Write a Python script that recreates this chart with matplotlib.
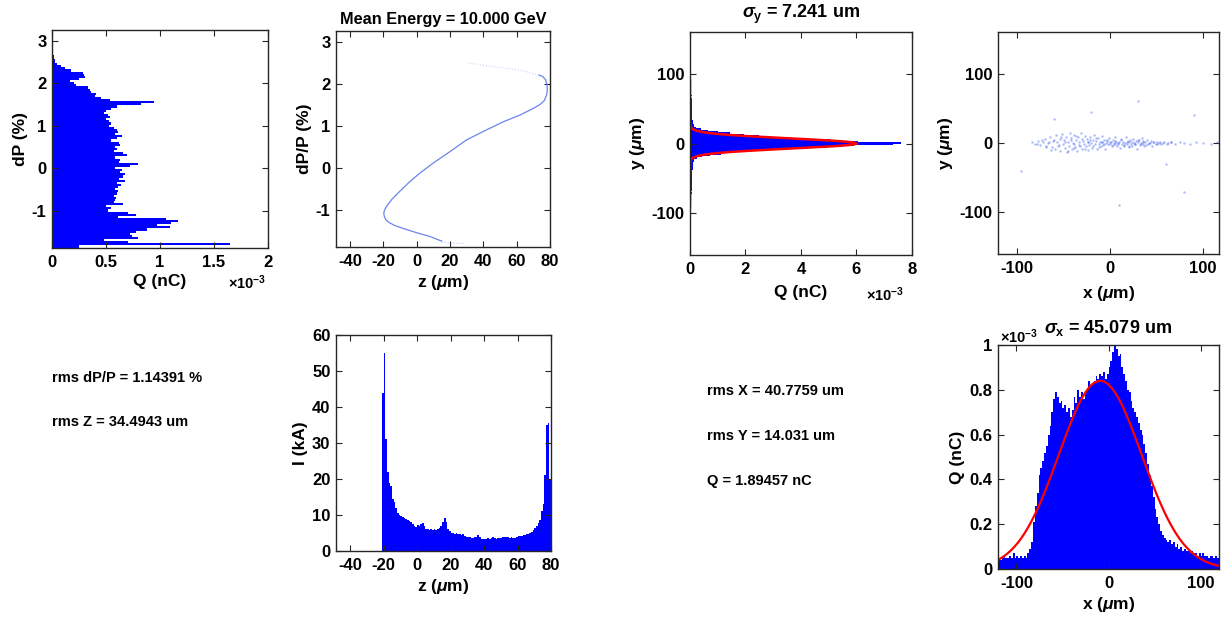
import numpy as np
import matplotlib
matplotlib.use("Agg")
import matplotlib.pyplot as plt
from matplotlib.ticker import FuncFormatter

W, H = 1223, 621
BLUE, RED, EDGE = "#0000ff", "#ff0000", "#262626"

# ---- energy spread histogram (dP %, Q in 1e-3 nC), bins of 0.05 % starting at -1.87
dp_start, dp_width = -1.87, 0.05
dp_q = [0.25, 1.65, 0.70, 0.48, 0.80, 0.74, 0.72, 0.78, 0.88, 1.09,
        0.97, 1.10, 1.17, 1.06, 0.61, 0.78, 0.70, 0.52, 0.55, 0.50,
        0.66, 0.57, 0.58, 0.59, 0.57, 0.60, 0.61, 0.58, 0.61, 0.64,
        0.60, 0.68, 0.62, 0.66, 0.68, 0.63, 0.65, 0.58, 0.72, 0.80,
        0.62, 0.63, 0.58, 0.69, 0.66, 0.57, 0.60, 0.58, 0.63, 0.62,
        0.55, 0.60, 0.65, 0.58, 0.61, 0.60, 0.57, 0.53, 0.55, 0.53,
        0.50, 0.54, 0.52, 0.48, 0.50, 0.55, 0.60, 0.82, 0.94, 0.54,
        0.45, 0.40, 0.41, 0.36, 0.35, 0.33, 0.22, 0.20, 0.17, 0.25,
        0.31, 0.30, 0.29, 0.18, 0.12, 0.08, 0.05, 0.03, 0.025, 0.02,
        0.015, 0.01, 0.008, 0.005]

# ---- longitudinal phase space trace (z um, dP/P %)
lps_z = [15, 8, 0, -8, -13, -16.5, -18.5, -19.5, -19.7, -19.3, -18, -15, -10, -4,
         2, 10, 20, 30, 40, 52, 62, 70, 74, 76.5, 78, 78.4, 78.2, 77.4, 75.5, 73.4]
lps_dp = [-1.74, -1.63, -1.54, -1.44, -1.37, -1.30, -1.23, -1.14, -1.07, -1.00,
          -0.91, -0.75, -0.55, -0.32, -0.12, 0.12, 0.39, 0.67, 0.87, 1.10, 1.26,
          1.42, 1.51, 1.60, 1.74, 1.85, 1.95, 2.10, 2.18, 2.21]
tail_lo_z = [15, 18, 22, 25, 28]
tail_lo_dp = [-1.76, -1.78, -1.79, -1.79, -1.80]
tail_hi_z = [73.4, 64, 54, 44, 30]
tail_hi_dp = [2.21, 2.31, 2.37, 2.42, 2.51]

# ---- vertical profile (y um, Q in 1e-3 nC), 2 um bins from -90
y_start, y_width = -90, 2
y_q = [0.02, 0.03, 0.04, 0.04, 0.05, 0.04, 0.05, 0.05, 0.05, 0.06,
       0.05, 0.06, 0.06, 0.06, 0.07, 0.06, 0.07, 0.07, 0.07, 0.08,
       0.07, 0.08, 0.08, 0.08, 0.09, 0.09, 0.10, 0.10, 0.10, 0.11,
       0.11, 0.12, 0.13, 0.15, 0.24, 0.42, 0.72, 1.10, 1.60, 2.20,
       2.95, 3.85, 4.85, 5.90, 7.30,
       7.60, 6.05, 5.05, 4.10, 3.20, 2.50, 1.95, 1.45, 1.00, 0.65,
       0.38, 0.22, 0.16, 0.13, 0.11, 0.10, 0.10, 0.09, 0.09, 0.09,
       0.08, 0.08, 0.08, 0.08, 0.07, 0.08, 0.07, 0.07, 0.07, 0.06,
       0.06, 0.06, 0.06, 0.05, 0.06, 0.05, 0.05, 0.05, 0.04, 0.04,
       0.04, 0.03, 0.03, 0.01, 0.0]
sigma_y, amp_y, mu_y = 7.241, 6.0, 0.0

# ---- transverse x-y cloud (um)
cloud_x = [-84, -80, -77, -75, -72, -70, -68, -66, -64, -62, -61, -59, -58, -57, -55,
           -54, -53, -51, -50, -49, -48, -47, -46, -45, -44, -43, -42, -41, -40, -39,
           -38, -37, -36, -35, -34, -33, -32, -31, -30, -29, -28, -27, -26, -25, -24,
           -23, -22, -21, -20, -19, -18, -17, -16, -15, -14, -13, -12, -11, -10, -9,
           -8, -7, -6, -5, -4, -3, -2, -1, 0, 1, 2, 3, 4, 5, 6, 7, 8, 9, 10, 11, 12,
           13, 14, 15, 16, 17, 18, 19, 20, 21, 22, 23, 24, 25, 26, 27, 28, 29, 30, 31,
           32, 33, 34, 35, 36, 37, 38, 40, 41, 42, 44, 45, 47, 49, 51, 53, 55, 58, 62,
           66, 70, 75, 80, 86, 92, 100, 108, 115,
           -78, -73, -69, -65, -63, -60, -56, -52, -48, -45, -42, -39, -36, -33, -30,
           -27, -24, -21, -18, -15, -12, -9, -6, -3, 0, 3, 6, 9, 12, 15, 18, 21, 24,
           27, 30, 33, 36, 39, 43, 46, 50, 54, 57, 61, 65,
           -95, 30, 60, -20, 80, 10, -60, 90]
cloud_y = [2, -1, 3, -3, 1, 6, -4, 0, 8, -6, 3, -9, 11, 1, -3,
           6, -11, 13, -1, 4, -7, 9, -13, 2, -4, 15, 7, -9, 0, -2,
           12, -6, 4, -11, 8, 1, -4, 14, -8, 3, -1, 10, -5, 6, -10,
           2, -3, 9, 0, -7, 5, 12, -2, 3, -9, 7, -1, 1, -5, 10,
           2, -3, 5, -8, 0, 3, -2, 7, -1, 1, -5, 4, 0, -2, 9, 2, -4, 0, 1, -7, 5,
           -1, 2, -3, 0, 8, -2, 3, -6, 1, 4, -1, -4, 6, 0, -2, 3, -8, 1, 5,
           -3, 0, 7, -1, 2, -5, 1, 4, -2, 0, 3, -4, 1, -1, 2, 0, -2, 1, 0,
           2, -1, 1, 0, -1, 1, 0, -1, 1,
           -2, 4, -6, 2, -10, 5, -5, 9, 1, -12, 4, -7, 10, -3, 6,
           -9, 1, 4, -4, 7, -6, 2, -2, 5, 1, -3, 3, -1, 6, -4, 1, -5, 2,
           -2, 4, -1, 3, -3, 0, 2, -1, 1, 0, -2, 1,
           -40, 60, -30, 45, -70, -90, 35, 40]

# ---- current profile (z um, I kA), 1 um bins from -21
z_start = -21
cur_ka = [44, 55, 31, 22, 19, 18, 14.5, 13.5, 12, 10.5,
          10, 9.8, 9.5, 9.2, 8.8, 8.5, 8.3, 8.0, 7.5, 7.0,
          6.8, 7.2, 7.0, 7.5, 7.8, 7.0, 6.0, 6.2, 5.8, 6.0,
          5.9, 6.1, 5.8, 6.0, 6.5, 7.0, 8.0, 9.2, 8.0, 6.2,
          5.5, 5.0, 5.0, 4.8, 5.0, 4.6, 4.8, 4.5, 4.6, 4.2,
          4.0, 4.0, 3.8, 3.5, 3.6, 3.8, 4.0, 4.4, 3.8, 3.4,
          3.4, 3.3, 3.4, 3.5, 3.4, 3.6, 3.9, 3.5, 3.3, 3.5,
          3.6, 3.7, 3.8, 4.0, 3.9, 3.8, 3.7, 3.8, 3.6, 3.7,
          4.0, 4.2, 4.3, 4.3, 4.4, 4.5, 4.6, 4.8, 5.0, 5.2,
          5.8, 6.5, 7.0, 7.8, 8.5, 11.0, 13.0, 21.0, 35.0, 35.5,
          20.0]

# ---- horizontal profile (x um, Q in 1e-3 nC), 2 um bins from -120
x_start, x_width = -120, 2
x_q = [0.05, 0.04, 0.05, 0.06, 0.05, 0.05, 0.06, 0.05, 0.07, 0.05,
       0.06, 0.05, 0.06, 0.05, 0.06, 0.05, 0.07,
       0.09, 0.12, 0.21, 0.28, 0.34, 0.42, 0.45, 0.48, 0.52, 0.55,
       0.60, 0.64, 0.70, 0.76, 0.79, 0.77, 0.74, 0.75, 0.72, 0.73,
       0.70, 0.72, 0.68, 0.71, 0.77, 0.74, 0.80, 0.77, 0.79, 0.76,
       0.78, 0.80, 0.84, 0.82, 0.83, 0.84, 0.86, 0.85, 0.87, 0.86,
       0.88, 0.85, 0.87, 0.90, 0.93, 0.97, 1.00, 0.98, 0.95, 0.96,
       0.90, 0.87, 0.84, 0.80, 0.79, 0.75, 0.72, 0.70, 0.68, 0.65,
       0.62, 0.60, 0.56, 0.52, 0.47, 0.42, 0.37, 0.32, 0.27, 0.23,
       0.20, 0.17, 0.15, 0.14, 0.13, 0.12, 0.13, 0.11, 0.12, 0.10,
       0.11, 0.09, 0.10, 0.08, 0.09, 0.08, 0.08, 0.07, 0.08, 0.07,
       0.07, 0.06, 0.07, 0.06, 0.07, 0.06, 0.06, 0.05, 0.06, 0.06,
       0.05, 0.06, 0.05]
sigma_x, amp_x, mu_x = 45.079, 0.84, -9.0

stats_left = ["rms dP/P = 1.14391 %", "rms Z = 34.4943 um"]
stats_right = ["rms X = 40.7759 um", "rms Y = 14.031 um", "Q = 1.89457 nC"]

plt.rcParams.update({
    "font.family": ["Liberation Sans", "DejaVu Sans"],
    "font.weight": "bold", "font.size": 12,
    "axes.labelweight": "bold", "axes.titleweight": "bold",
    "axes.labelsize": 12.5, "axes.titlesize": 11.7,
    "axes.labelpad": 3,
    "axes.unicode_minus": False,
    "mathtext.fontset": "custom", "mathtext.rm": "Liberation Sans:bold",
    "mathtext.it": "Liberation Sans:italic", "mathtext.bf": "Liberation Sans:bold",
    "axes.edgecolor": EDGE, "axes.linewidth": 1.0,
    "xtick.direction": "in", "ytick.direction": "in",
    "xtick.top": True, "ytick.right": True,
    "xtick.major.size": 4, "ytick.major.size": 4,
    "xtick.major.pad": 5, "ytick.major.pad": 4,
    "xtick.color": EDGE, "ytick.color": EDGE,
    "xtick.labelcolor": "black", "ytick.labelcolor": "black",
})

fig = plt.figure(figsize=(W / 100, H / 100), dpi=100)


def box(l, t, r, b):
    return fig.add_axes([l / W, 1 - b / H, (r - l) / W, (b - t) / H])


def style(ax, xlim, ylim, xt, yt):
    ax.set_xlim(xlim); ax.set_ylim(ylim)
    ax.set_xticks(xt); ax.set_yticks(yt)
    fmt = FuncFormatter(lambda v, p: f"{v:g}")
    ax.xaxis.set_major_formatter(fmt); ax.yaxis.set_major_formatter(fmt)


def exp_label(px, py):
    fig.text(px / W, 1 - py / H, r"$\times10^{-3}$", fontsize=10.5, va="center", ha="left")


um = r"($\mu$m)"

# panel 1: dP histogram
ax1 = box(52, 30, 268, 248)
dp_edges = dp_start + dp_width * np.arange(len(dp_q) + 1)
ax1.stairs(dp_q, dp_edges, orientation="horizontal", fill=True, color=BLUE, lw=0)
style(ax1, (0, 2), (-1.88, 3.26), [0, 0.5, 1, 1.5, 2], [-1, 0, 1, 2, 3])
ax1.set_xlabel("Q (nC)"); ax1.set_ylabel("dP (%)")
exp_label(228, 283)

# panel 2: longitudinal phase space
ax2 = box(336, 31, 550, 247)
ax2.plot(lps_z, lps_dp, color="#5070e8", lw=0.9, alpha=0.85)
ax2.plot(tail_lo_z, tail_lo_dp, color="#5070e8", lw=0.8, ls=":", alpha=0.4)
ax2.plot(tail_hi_z, tail_hi_dp, color="#5070e8", lw=0.8, ls=":", alpha=0.3)
style(ax2, (-48.4, 80), (-1.88, 3.26), [-40, -20, 0, 20, 40, 60, 80], [-1, 0, 1, 2, 3])
ax2.set_xlabel("z " + um); ax2.set_ylabel("dP/P (%)")
ax2.set_title("Mean Energy = 10.000 GeV", pad=5)

# panel 3: y profile with gaussian fit
ax3 = box(690, 32, 912, 255)
y_edges = y_start + y_width * np.arange(len(y_q) + 1)
ax3.stairs(y_q, y_edges, orientation="horizontal", fill=True, color=BLUE, lw=0)
yy = np.linspace(-90, 90, 721)
ax3.plot(amp_y * np.exp(-(yy - mu_y) ** 2 / (2 * sigma_y ** 2)), yy, color=RED, lw=1.8)
style(ax3, (0, 8), (-160, 160), [0, 2, 4, 6, 8], [-100, 0, 100])
ax3.set_xlabel("Q (nC)", labelpad=6); ax3.set_ylabel("y " + um)
ax3.set_title(r"$\sigma_\mathbf{y}$ = 7.241 um", pad=10, fontsize=13)
exp_label(866, 295)

# panel 4: x-y cloud
ax4 = box(998, 32, 1219, 254)
ax4.scatter(cloud_x, cloud_y, s=3, color="#3355ee", alpha=0.4, lw=0)
style(ax4, (-120, 117), (-160, 160), [-100, 0, 100], [-100, 0, 100])
ax4.set_xlabel("x " + um, labelpad=6); ax4.set_ylabel("y " + um)

# panel 5: current profile
ax5 = box(336, 335, 551, 551)
z_edges = z_start + np.arange(len(cur_ka) + 1)
ax5.stairs(cur_ka, z_edges, fill=True, color=BLUE, lw=0)
style(ax5, (-48.4, 80), (0, 60), [-40, -20, 0, 20, 40, 60, 80], range(0, 61, 10))
ax5.set_xlabel("z " + um); ax5.set_ylabel("I (kA)")

# panel 6: x profile with gaussian fit
ax6 = box(998, 345, 1219, 569)
x_edges = x_start + x_width * np.arange(len(x_q) + 1)
ax6.stairs(x_q, x_edges, fill=True, color=BLUE, lw=0)
xx = np.linspace(-120, 120, 481)
ax6.plot(xx, amp_x * np.exp(-(xx - mu_x) ** 2 / (2 * sigma_x ** 2)), color=RED, lw=1.6)
style(ax6, (-120, 120), (0, 1), [-100, 0, 100], [0, 0.2, 0.4, 0.6, 0.8, 1])
ax6.set_xlabel("x " + um); ax6.set_ylabel("Q (nC)")
ax6.set_title(r"$\sigma_\mathbf{x}$ = 45.079 um", pad=9, fontsize=13)
exp_label(1000, 337)

for i, s in enumerate(stats_left):
    fig.text(52 / W, 1 - (378 + 44 * i) / H, s, fontsize=10.5, va="center")
for i, s in enumerate(stats_right):
    fig.text(707 / W, 1 - (391 + 45 * i) / H, s, fontsize=10.5, va="center")

fig.savefig("out.png", dpi=100)
